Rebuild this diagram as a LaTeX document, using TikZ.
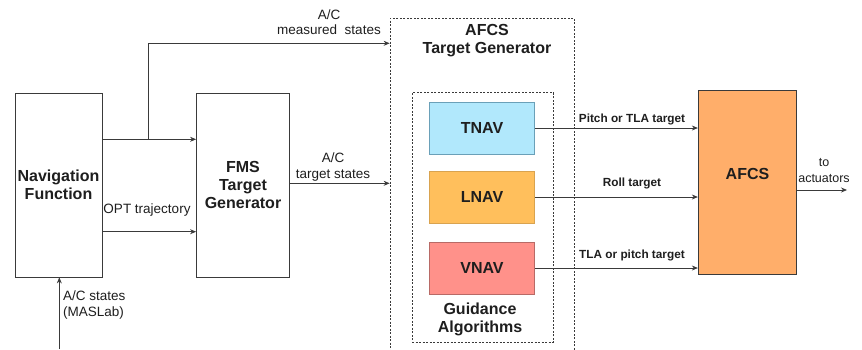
\documentclass[tikz,border=0pt]{standalone}
\usepackage{fontspec}
\setmainfont{Liberation Sans}
\usetikzlibrary{arrows.meta}
\definecolor{tnavfill}{HTML}{B1E8FC}
\definecolor{tnavdraw}{HTML}{6AA0B8}
\definecolor{lnavfill}{HTML}{FFBF5C}
\definecolor{lnavdraw}{HTML}{D9A34F}
\definecolor{vnavfill}{HTML}{FF918A}
\definecolor{vnavdraw}{HTML}{B86A66}
\definecolor{afcsfill}{HTML}{FFAE6A}
\definecolor{txt}{HTML}{1E1E1E}
\definecolor{ln}{HTML}{3A3A3A}
\tikzset{
  blk/.style={draw=ln, line width=0.8pt, inner sep=0pt, align=center, font=\fontsize{16}{18}\selectfont\bfseries, text=txt},
  nav/.style={blk, minimum width=105pt, minimum height=52pt},
  dbox/.style={draw=ln, dashed, dash pattern=on 2pt off 1.5pt, line width=0.7pt, inner sep=0pt},
  arr/.style={draw=ln, line width=0.8pt, -{Stealth[length=6pt,width=5pt]}},
  lbl/.style={font=\fontsize{13.5}{15.5}\selectfont, text=txt, align=center, inner sep=0pt},
  slbl/.style={font=\fontsize{11.8}{14}\selectfont\bfseries, text=txt, inner sep=0pt},
}
\begin{document}
\begin{tikzpicture}[x=1pt,y=-1pt]
\useasboundingbox (0,0) rectangle (862,349);
\clip (0,0) rectangle (862,349);
% boxes
\node[blk, minimum width=87pt, minimum height=184pt] (navf) at (58.5,185) {Navigation\\Function};
\node[blk, minimum width=93pt, minimum height=184pt] (fms) at (243,185) {FMS\\Target\\Generator};
\node[dbox, minimum width=184pt, minimum height=340pt] (outer) at (482,188) {};
\node[dbox, minimum width=141pt, minimum height=249.5pt] (inner) at (482.5,217.5) {};
\node[nav, fill=tnavfill, draw=tnavdraw] (tnav) at (482,128) {TNAV};
\node[nav, fill=lnavfill, draw=lnavdraw] (lnav) at (482,197) {LNAV};
\node[nav, fill=vnavfill, draw=vnavdraw] (vnav) at (482,268) {VNAV};
\node[blk, fill=afcsfill, minimum width=98.5pt, minimum height=184pt] (afcs) at (747.5,182) {};
\node[blk, draw=none, fill=none] (afcst) at (747.5,174) {AFCS};
% titles
\node[blk, draw=none] (outt) at (487,41) {AFCS\\Target Generator};
\node[blk, draw=none] (guid) at (480,319) {Guidance\\Algorithms};
% coordinates
\coordinate (src) at (59.3,349);
\coordinate (split) at (148.3,139.3);
\coordinate (act) at (847,190);
% connectors
\draw[arr] (src) -- (navf.south -| src);
\draw[arr] (navf.east |- split) -- (fms.west |- split);
\draw[arr] (navf.east |- 0,231.7) -- (fms.west |- 0,231.7);
\draw[arr] (split) -- (148.3,43.3) -- (outer.west |- 0,43.3);
\draw[arr] (fms.east |- 0,183.3) -- (outer.west |- 0,183.3);
\draw[arr] (tnav.east) -- (tnav.east -| afcs.west);
\draw[arr] (lnav.east) -- (lnav.east -| afcs.west);
\draw[arr] (vnav.east) -- (vnav.east -| afcs.west);
\draw[arr] (afcs.east |- act) -- (act);
% labels
\node[lbl] (l1) at (329,22) {A/C\\measured\ \ states};
\node[lbl] (l2) at (333,167) {A/C\\target states};
\node[lbl] (l3) at (147,210) {OPT trajectory};
\node[lbl, align=left, anchor=west] (l4) at (63,305) {A/C states\\(MASLab)};
\node[lbl, font=\fontsize{12.5}{16}\selectfont] (l5) at (824,171) {to\\actuators};
\node[slbl] (s1) at (632,119) {Pitch or TLA target};
\node[slbl] (s2) at (632,183) {Roll target};
\node[slbl] (s3) at (632,255) {TLA or pitch target};
\end{tikzpicture}
\end{document}
